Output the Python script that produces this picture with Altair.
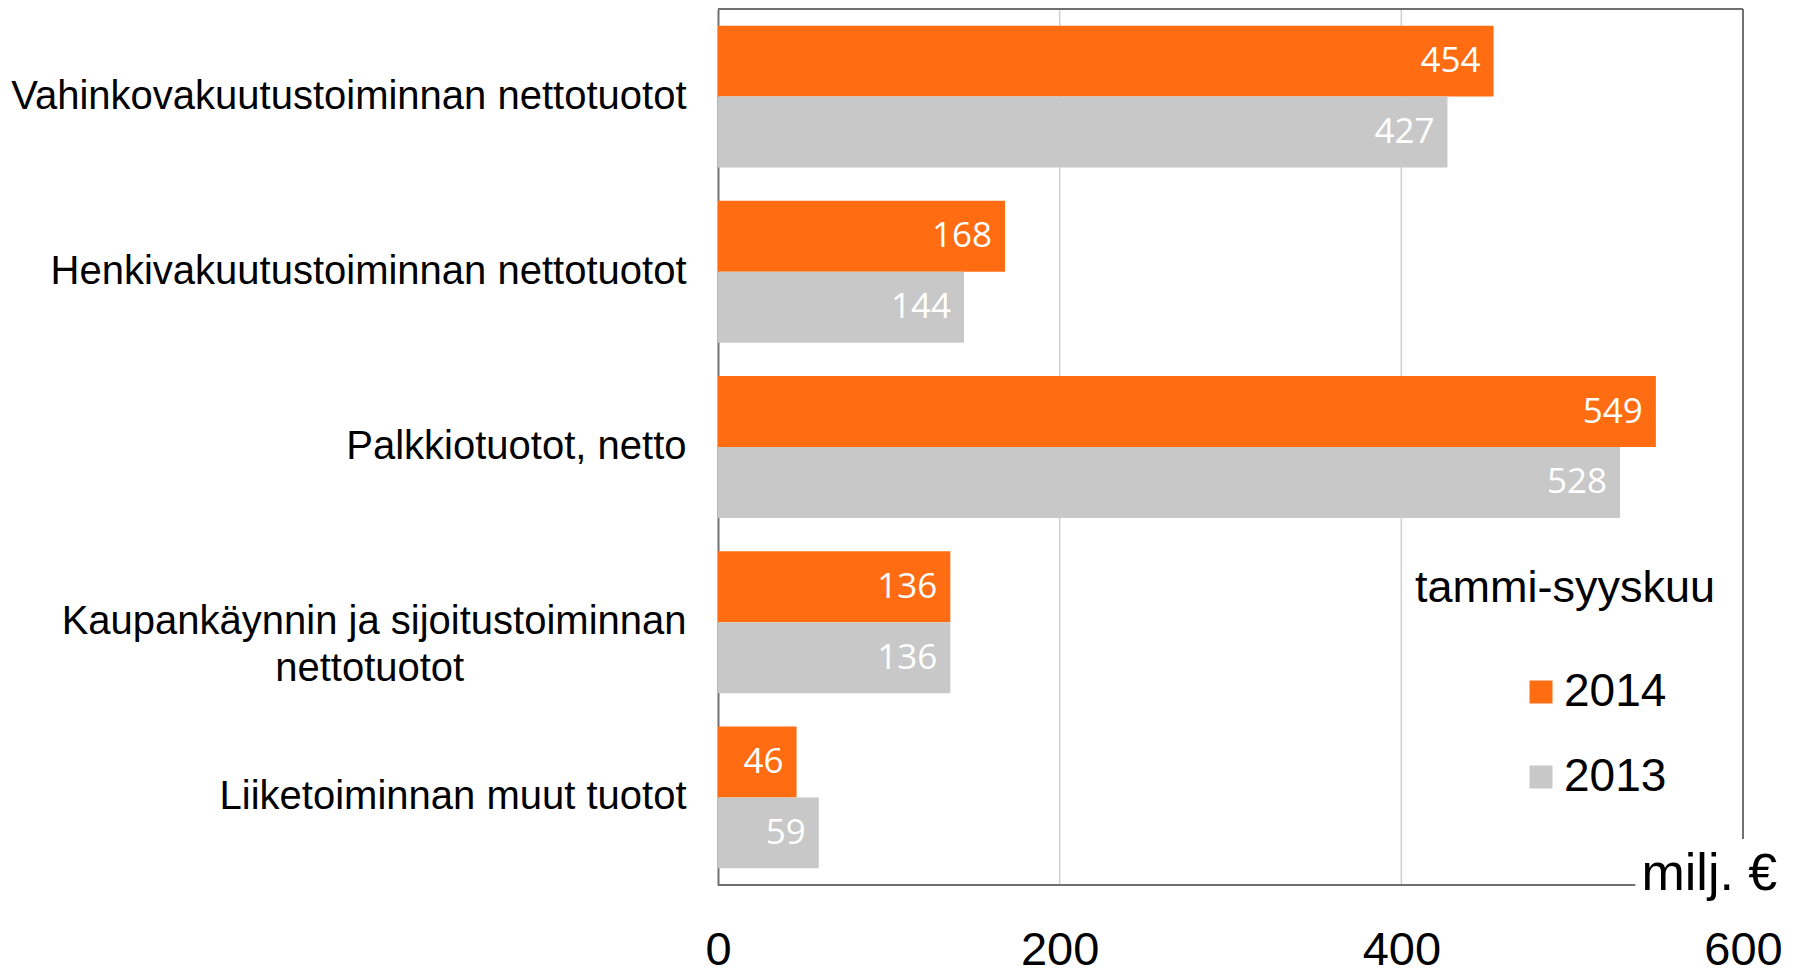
import altair as alt
import pandas as pd

categories = [
    "Vahinkovakuutustoiminnan nettotuotot",
    "Henkivakuutustoiminnan nettotuotot",
    "Palkkiotuotot, netto",
    "Kaupankäynnin ja sijoitustoiminnan nettotuotot",
    "Liiketoiminnan muut tuotot",
]
values_2014 = [454, 168, 549, 136, 46]
values_2013 = [427, 144, 528, 136, 59]
years = ["2014", "2013"]
colors = ["#FF6C12", "#C8C8C8"]
x_ticks = [0, 200, 400, 600]
grid_vals = [200, 400]
legend_title = "tammi-syyskuu"
unit_label = "milj. €"
frame_bottom_end = 537

rows = []
for c, a, b in zip(categories, values_2014, values_2013):
    rows.append({"cat": c, "year": years[0], "value": a})
    rows.append({"cat": c, "year": years[1], "value": b})
df = pd.DataFrame(rows)

W, H = 1025, 876
FONT = "Liberation Sans"
FRAME = "#707070"

# second line of the two-line label is centred under the first one
pad = "\u00a0" * 20 + "\u200b"
label_expr = (
    f"datum.value == '{categories[3]}' ? "
    f"['Kaupankäynnin ja sijoitustoiminnan', 'nettotuotot{pad}'] : datum.value"
)

x_scale = alt.Scale(domain=[0, 600], nice=False, zero=True)
y_scale = alt.Scale(domain=categories, paddingInner=0.19, paddingOuter=0.095)
yoff_scale = alt.Scale(domain=years, paddingInner=0, paddingOuter=0)

grid = alt.Chart(pd.DataFrame({"g": grid_vals})).mark_rule(
    color="#D0D0D0", strokeWidth=1.5
).encode(x=alt.X("g:Q", scale=x_scale))

bars = alt.Chart(df).mark_bar().encode(
    x=alt.X(
        "value:Q",
        scale=x_scale,
        axis=alt.Axis(
            values=x_ticks, title=unit_label, grid=False, domain=False, ticks=False,
            labelFont=FONT, labelFontSize=47, labelColor="black", labelPadding=42,
            labelFlush=False, format="d",
            titleFont=FONT, titleFontSize=52, titleFontWeight="normal", titleColor="black",
            titleX=923, titleY=4, titleAlign="left", titleAnchor="start",
            titleBaseline="alphabetic",
        ),
    ),
    y=alt.Y(
        "cat:N",
        scale=y_scale,
        sort=categories,
        axis=alt.Axis(
            title=None, ticks=False, domain=True, domainColor=FRAME, domainWidth=2,
            labelFont=FONT, labelFontSize=40, labelColor="black", labelPadding=32,
            labelLimit=1000, labelExpr=label_expr, labelLineHeight=47,
        ),
    ),
    yOffset=alt.YOffset("year:N", scale=yoff_scale, sort=years),
    color=alt.Color(
        "year:N",
        scale=alt.Scale(domain=years, range=colors),
        sort=years,
        legend=alt.Legend(
            title=None, orient="none", legendX=800, legendY=660,
            symbolType="square", symbolSize=529, symbolStrokeWidth=0,
            labelFont=FONT, labelFontSize=46, labelColor="black",
            labelOffset=0, rowPadding=39, padding=0, direction="vertical",
        ),
    ),
)

labels = alt.Chart(df).mark_text(
    align="right", baseline="middle", dx=-13, color="white",
    font="Open Sans", fontSize=35,
).encode(
    x=alt.X("value:Q", scale=x_scale),
    y=alt.Y("cat:N", sort=categories, scale=y_scale),
    yOffset=alt.YOffset("year:N", scale=yoff_scale, sort=years),
    text=alt.Text("value:Q"),
)

one = pd.DataFrame({"a": [0]})
frame_top = alt.Chart(one).mark_rule(color=FRAME, strokeWidth=2).encode(
    x=alt.datum(0), x2=alt.datum(600), y=alt.value(0)
)
frame_right = alt.Chart(one).mark_rule(color=FRAME, strokeWidth=2).encode(
    x=alt.datum(600), y=alt.value(0), y2=alt.value(830)
)
frame_bottom = alt.Chart(one).mark_rule(color=FRAME, strokeWidth=2).encode(
    x=alt.datum(0), x2=alt.datum(frame_bottom_end), y=alt.value(H)
)

ttl = alt.Chart(pd.DataFrame({"t": [legend_title]})).mark_text(
    align="left", baseline="alphabetic", font=FONT, fontSize=45, color="black"
).encode(text="t:N", x=alt.value(697), y=alt.value(593))

chart = alt.layer(
    grid, bars, labels, frame_top, frame_right, frame_bottom, ttl
).properties(
    width=W, height=H,
    padding={"left": 2, "top": 0, "right": 5, "bottom": 0},
).configure_view(strokeWidth=0)

chart.save("out.html", embed_options={"renderer": "svg", "actions": False})
